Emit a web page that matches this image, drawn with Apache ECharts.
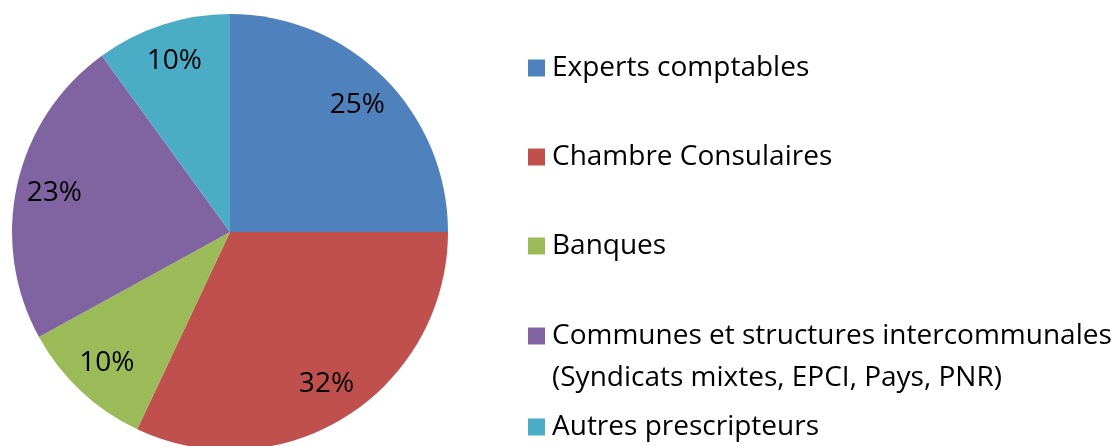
<!DOCTYPE html>
<html>
<head>
<meta charset="utf-8">
<script src="https://cdn.jsdelivr.net/npm/echarts@6/dist/echarts.min.js"></script>
<style>
  html, body { margin: 0; padding: 0; background: #fff; }
  #chart { width: 1112px; height: 446px; }
</style>
</head>
<body>
<div id="chart"></div>
<script>
// Données
const categories = [
    'Experts comptables',
    'Chambre Consulaires',
    'Banques',
    'Communes et structures intercommunales\n(Syndicats mixtes, EPCI, Pays, PNR)',
    'Autres prescripteurs'
];
const values = [25, 32, 10, 23, 10];
const colors = ['#4F81BD', '#C0504D', '#9BBB59', '#8064A2', '#4BACC6'];

// position verticale du centre de la première ligne de chaque entrée de légende
const legendCenters = [68, 157, 246, 336, 427];

const FONT = 'Open Sans';
const FONT_SIZE = 28;
const LINE_H = 42;

const pieData = categories.map((name, i) => ({
    name: name,
    value: values[i],
    itemStyle: { color: colors[i] }
}));

// une légende par entrée pour placer chacune comme dans l'original
const legends = categories.map((name, i) => {
    const lines = name.split('\n').length;
    // ligne vide ajoutée en haut pour que le carré reste sur la première ligne
    const shown = lines > 1 ? '\n'.repeat(lines - 1) + name : name;
    const boxH = LINE_H * (2 * lines - 1);
    return {
        orient: 'vertical',
        left: 528,
        top: legendCenters[i] - boxH / 2,
        padding: 0,
        itemWidth: 17,
        itemHeight: 17,
        itemGap: 0,
        icon: 'rect',
        selectedMode: false,
        data: [name],
        formatter: () => shown,
        textStyle: {
            fontFamily: FONT,
            fontSize: FONT_SIZE,
            color: '#000',
            lineHeight: LINE_H,
            padding: [0, 0, 0, 2]
        }
    };
});

const chart = echarts.init(document.getElementById('chart'));
chart.setOption({
    animation: false,
    legend: legends,
    series: [
        {
            name: 'base',
            type: 'pie',
            center: [230, 232],
            radius: 218,
            startAngle: 90,
            label: { show: false },
            labelLine: { show: false },
            emphasis: { disabled: true },
            data: pieData
        },
        {
            name: 'labels',
            type: 'pie',
            center: [230, 232],
            radius: [136, 218],
            startAngle: 90,
            silent: true,
            label: {
                show: true,
                position: 'inside',
                formatter: '{c}%',
                fontFamily: FONT,
                fontSize: FONT_SIZE,
                color: '#000'
            },
            labelLine: { show: false },
            data: categories.map((name, i) => ({ name: name, value: values[i], itemStyle: { color: 'rgba(0,0,0,0)' } }))
        }
    ]
});
</script>
</body>
</html>
